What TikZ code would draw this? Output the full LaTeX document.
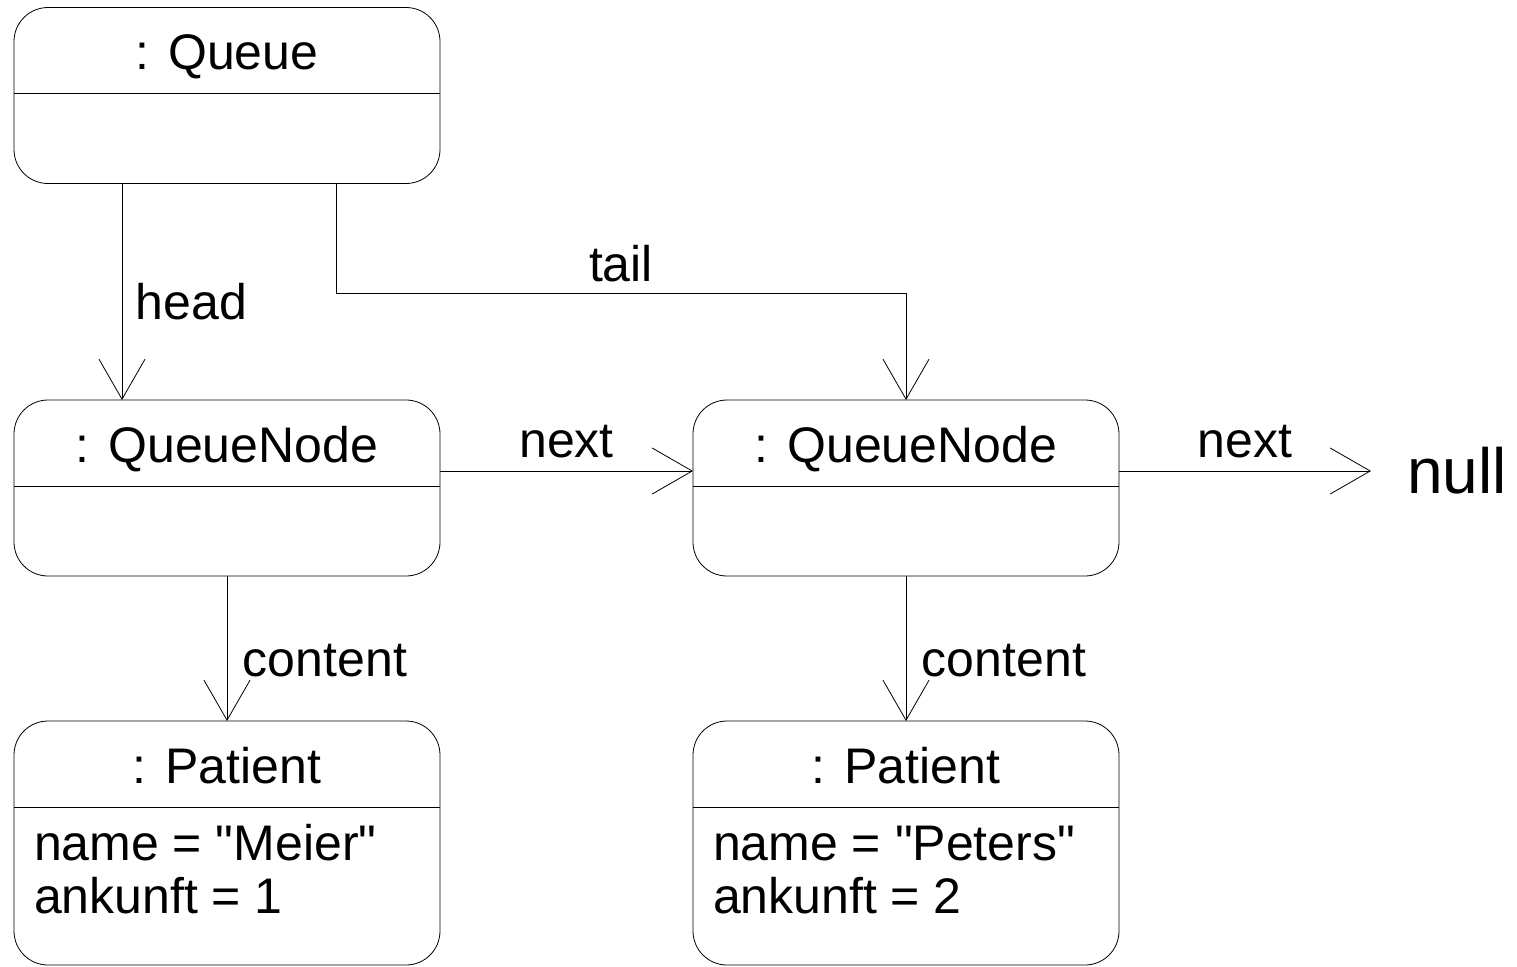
\documentclass[tikz,border=0pt]{standalone}
\usepackage{fontspec}
\setmainfont{Liberation Sans}[Ligatures=TeXOff]
\usepackage{tikz}
\usetikzlibrary{positioning, arrows.meta}
\tikzset{line width=1.2pt, >={Straight Barb[length=20pt, width=23pt]},
	obj/.style={draw, rounded corners=17pt, minimum width=213pt, minimum height=88pt, inner sep=0pt, outer sep=0pt},
	title/.style={anchor=base, inner sep=0pt},
	lbl/.style={inner sep=0pt},
	attr/.style={align=left, anchor=base west, inner sep=0pt},
	nulltxt/.style={inner xsep=18pt, inner ysep=0pt, font=\fontsize{32pt}{36pt}\selectfont}}

\begin{document}
\begin{tikzpicture}[x=0.5pt, y=-0.5pt, every node/.style={font=\fontsize{25pt}{26.5pt}\selectfont}]
	\useasboundingbox (0,0) rectangle (1517,966);
	\node[obj] (queue) at (227,95.5) {};
	\node[obj, below=108.25pt of queue] (node1) {};
	\node[obj, right=126.5pt of node1] (node2) {};
	\node[obj, minimum height=122pt, below=72.5pt of node1] (pat1) {};
	\node[obj, minimum height=122pt, below=72.5pt of node2] (pat2) {};
	\node[title] (queueT) at ([yshift=-31pt]queue.north) {: Queue};
	\node[title] (node1T) at ([yshift=-31pt]node1.north) {: QueueNode};
	\node[title] (node2T) at ([yshift=-31pt]node2.north) {: QueueNode};
	\node[title] (pat1T) at ([yshift=-31pt]pat1.north) {: Patient};
	\node[title] (pat2T) at ([yshift=-31pt]pat2.north) {: Patient};
	\node[attr] (pat1A) at ([xshift=9.8pt, yshift=-96pt]pat1.north west) {name = "Meier"\\ankunft = 1};
	\node[attr] (pat2A) at ([xshift=9.8pt, yshift=-96pt]pat2.north west) {name = "Peters"\\ankunft = 2};
	\node[nulltxt, right=126pt of node2.east, yshift=8.5pt] (null) {null};
	\foreach \b in {queue, node1, node2, pat1, pat2}
		\draw ([yshift=-43pt]\b.north west) -- ([yshift=-43pt]\b.north east);
	\draw
		([xshift=54pt]queue.south west) edge[->] node[lbl, pos=0.63, anchor=base west, xshift=6.75pt]{head} ([xshift=54pt]node1.north west)
		([yshift=8.5pt]node1.east) edge[->] node[lbl, anchor=base, yshift=7pt]{next} ([yshift=8.5pt]node2.west)
		([yshift=8.5pt]node2.east) edge[->] node[lbl, anchor=base, yshift=7pt]{next} (null.west)
		(node1.south) edge[->] node[lbl, pos=0.69, anchor=base west, xshift=7.75pt]{content} (pat1.north)
		(node2.south) edge[->] node[lbl, pos=0.69, anchor=base west, xshift=7.75pt]{content} (pat2.north);
	\draw[->] ([xshift=161pt]queue.south west) -- ++(0,109.5) -| node[lbl, pos=0.25, anchor=base, yshift=6pt]{tail} (node2.north);
\end{tikzpicture}
\end{document}
